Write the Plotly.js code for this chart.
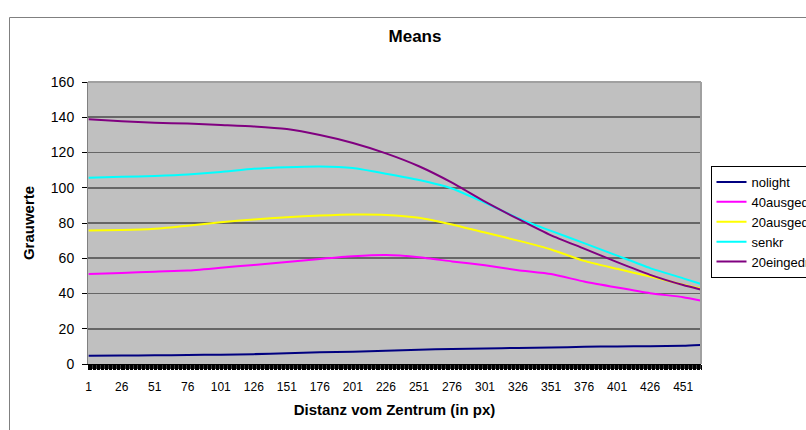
<!DOCTYPE html>
<html>
<head>
<meta charset="utf-8">
<script src="https://cdn.plot.ly/plotly-3.0.1.min.js"></script>
<style>
html,body{margin:0;padding:0;overflow:hidden;background:#fff;width:806px;height:430px;}
#chart{width:900px;height:430px;}
</style>
</head>
<body>
<div id="chart"></div>
<script>
// Distance categories (px from centre) at which values were read
const distance = [1, 26, 51, 76, 101, 126, 151, 176, 201, 226, 251, 276, 301, 326, 351, 376, 401, 426, 451, 464];
const nolight      = [4.7, 4.8, 4.9, 5.1, 5.3, 5.6, 6.1, 6.6, 7.0, 7.5, 8.1, 8.5, 8.8, 9.1, 9.3, 9.8, 10.0, 10.1, 10.3, 10.8];
const ausgedreht40 = [51.1, 51.6, 52.4, 53.0, 54.6, 56.2, 57.9, 59.6, 61.1, 61.8, 60.6, 58.2, 56.0, 53.2, 51.0, 46.8, 43.4, 40.2, 37.9, 36.0];
const ausgedreht20 = [75.7, 76.0, 76.8, 78.5, 80.4, 82.0, 83.3, 84.2, 84.8, 84.6, 83.0, 79.2, 74.6, 70.0, 65.0, 58.5, 54.0, 49.6, 45.0, 42.8];
const senkr        = [105.7, 106.2, 106.7, 107.5, 109.0, 110.8, 111.7, 112.1, 111.2, 108.0, 104.4, 99.6, 91.5, 82.8, 75.5, 68.6, 61.5, 54.4, 48.6, 45.5];
const eingedreht20 = [138.8, 137.8, 136.9, 136.4, 135.6, 134.8, 133.3, 129.9, 125.4, 119.5, 112.2, 102.9, 92.1, 82.3, 73.0, 65.5, 57.8, 50.6, 44.8, 42.3];

const seriesNames = ["nolight", "40ausgedreht", "20ausgedreht", "senkr", "20eingedreht"];
const seriesValues = [nolight, ausgedreht40, ausgedreht20, senkr, eingedreht20];
const seriesColors = ["#000080", "#FF00FF", "#FFFF00", "#00FFFF", "#800080"];

const firstTick = 1, tickStep = 25;   // tick labels 1, 26, 51, ... 451
const nCategories = 464;

const traces = seriesNames.map((name, i) => ({
  type: "scatter",
  mode: "lines",
  name: name,
  x: distance,
  y: seriesValues[i],
  line: {color: seriesColors[i], width: 2, shape: "spline", smoothing: 0.5},
  legendgroup: name,
  hoverinfo: "skip"
}));

const FONT = "Liberation Sans, Arial, sans-serif";
const plotW = 613, plotH = 282, mL = 88, mT = 82;
const px2x = p => (p - mL) / plotW;
const py2y = p => (mT + plotH - p) / plotH;
const tickBand = 5;   // px height of the dense category tick marks

const layout = {
  width: 900, height: 430,
  margin: {l: mL, r: 900 - mL - plotW, t: mT, b: 430 - mT - plotH, pad: 0},
  paper_bgcolor: "#ffffff",
  plot_bgcolor: "#C0C0C0",
  font: {family: FONT, color: "#000"},
  title: {text: "<b>Means</b>", font: {family: FONT, size: 17, color: "#000"},
          xref: "paper", x: px2x(415), xanchor: "center",
          yref: "container", y: 1 - 36/430, yanchor: "middle"},
  showlegend: true,
  legend: {x: px2x(710.5), xanchor: "left", y: py2y(222), yanchor: "middle",
           bgcolor: "#ffffff", bordercolor: "#000", borderwidth: 1,
           font: {family: FONT, size: 13, color: "#000"}, tracegroupgap: 4,
           traceorder: "normal"},
  xaxis: {
    range: [0.5, nCategories + 0.5],
    tickmode: "linear", tick0: firstTick, dtick: tickStep,
    ticks: "outside", ticklen: tickBand, tickcolor: "#000", tickwidth: 1,
    minor: {tickmode: "linear", tick0: 0.5, dtick: 1, ticks: "outside", ticklen: tickBand,
            tickcolor: "#000", tickwidth: 1, showgrid: false},
    showgrid: false, zeroline: false,
    showline: true, linecolor: "#000", linewidth: 1,
    tickfont: {family: FONT, size: 12, color: "#000"},
    ticklabelstandoff: 7,
    title: {text: "<b>Distanz vom Zentrum (in px)</b>", font: {family: FONT, size: 15, color: "#000"}, standoff: 11},
    fixedrange: true
  },
  yaxis: {
    range: [0, 160], dtick: 20, tick0: 0,
    ticks: "outside", ticklen: 5, tickcolor: "#000", tickwidth: 1,
    showgrid: true, gridcolor: "#666666", gridwidth: 1.6,
    zeroline: false, showline: true, linecolor: "#808080", linewidth: 1,
    tickfont: {family: FONT, size: 14, color: "#000"},
    ticklabelstandoff: 5,
    title: {text: "<b>Grauwerte</b>", font: {family: FONT, size: 15, color: "#000"}, standoff: 12},
    fixedrange: true
  },
  shapes: [
    // chart area border
    {type: "rect", xref: "paper", yref: "paper", x0: px2x(9.5), x1: 2, y0: -1, y1: py2y(17.5),
     line: {color: "#808080", width: 1}, fillcolor: "rgba(0,0,0,0)", layer: "below"},
    // dark band where the dense per-category tick marks sit (Excel category axis)
    {type: "rect", xref: "paper", yref: "paper", x0: 0, x1: 1, y0: -tickBand / plotH, y1: 0,
     line: {width: 0}, fillcolor: "#3a3a3a", layer: "below"},
    // plot area top/right border (light)
    {type: "line", xref: "paper", yref: "paper", x0: 0, x1: 1, y0: 1, y1: 1,
     line: {color: "#A0A0A0", width: 2}, layer: "above"},
    {type: "line", xref: "paper", yref: "paper", x0: 1, x1: 1, y0: 0, y1: 1,
     line: {color: "#A0A0A0", width: 2}, layer: "above"}
  ]
};

Plotly.newPlot("chart", traces, layout, {displayModeBar: false, staticPlot: true});
</script>
</body>
</html>
